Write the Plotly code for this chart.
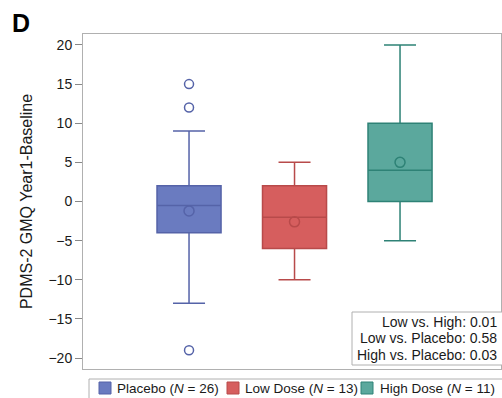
import plotly.graph_objects as go

groups = ["Placebo", "Low Dose", "High Dose"]
n_sizes = [26, 13, 11]
q1 = [-4, -6, 0]
median = [-0.5, -2, 4]
q3 = [2, 2, 10]
lower_fence = [-13, -10, -5]
upper_fence = [9, 5, 20]
means = [-1.2, -2.6, 5]
outliers = [[15, 12, -19], [], []]
fill_colors = ["#6A7BC0", "#D65E5E", "#5BA89D"]
line_colors = ["#5563A8", "#B84A4A", "#2E8276"]
y_ticks = [-20, -15, -10, -5, 0, 5, 10, 15, 20]
stats_lines = ["Low vs. High: 0.01", "Low vs. Placebo: 0.58", "High vs. Placebo: 0.03"]

W, H = 502, 398
L, R, T, B = 83, 1, 34, 29
pw, ph = W - L - R, H - T - B

def px(x):
    return (x - L) / pw

def py(y):
    return (H - B - y) / ph

fig = go.Figure()
for i, g in enumerate(groups):
    fig.add_trace(go.Box(
        x=[g], q1=[q1[i]], median=[median[i]], q3=[q3[i]],
        lowerfence=[lower_fence[i]], upperfence=[upper_fence[i]],
        fillcolor=fill_colors[i], line=dict(color=line_colors[i], width=1.5),
        width=0.607, whiskerwidth=0.5, boxpoints=False, showlegend=False,
        hoverinfo="skip",
    ))
    fig.add_trace(go.Scatter(
        x=[g], y=[means[i]], mode="markers",
        marker=dict(symbol="circle-open", size=10, color=line_colors[i], line=dict(width=1.5)),
        showlegend=False, hoverinfo="skip",
    ))
    if outliers[i]:
        fig.add_trace(go.Scatter(
            x=[g] * len(outliers[i]), y=outliers[i], mode="markers",
            marker=dict(symbol="circle-open", size=9, color=line_colors[i], line=dict(width=1.5)),
            showlegend=False, hoverinfo="skip",
        ))

shapes = []
annotations = []

# Stats box
shapes.append(dict(type="rect", xref="paper", yref="paper",
                   x0=px(352), x1=px(503), y0=py(365), y1=py(312),
                   line=dict(color="#b0b0b0", width=1), fillcolor="white", layer="above"))
for k, s in enumerate(stats_lines):
    annotations.append(dict(text=s, xref="paper", yref="paper", x=px(499), y=py(321.5 + k * 16.5),
                            xanchor="right", yanchor="middle", showarrow=False,
                            font=dict(size=14, color="#1a1a1a")))

# Legend
shapes.append(dict(type="rect", xref="paper", yref="paper",
                   x0=px(89), x1=px(505), y0=py(401), y1=py(379),
                   line=dict(color="#b0b0b0", width=1), fillcolor="white", layer="above"))
sw_x = [99, 227, 361]
tx_x = [115, 243, 378]
for i, g in enumerate(groups):
    shapes.append(dict(type="rect", xref="paper", yref="paper",
                       x0=px(sw_x[i]), x1=px(sw_x[i] + 12), y0=py(394), y1=py(382),
                       line=dict(color=line_colors[i], width=1), fillcolor=fill_colors[i], layer="above"))
    annotations.append(dict(text=f"{g} (<i>N</i> = {n_sizes[i]})", xref="paper", yref="paper",
                            x=px(tx_x[i]), y=py(388), xanchor="left", yanchor="middle",
                            showarrow=False, font=dict(size=13.5, color="#1a1a1a")))

# Panel label
annotations.append(dict(text="<b>D</b>", xref="paper", yref="paper", x=px(10), y=py(23),
                        xanchor="left", yanchor="middle", showarrow=False,
                        font=dict(size=25, color="black")))

fig.update_layout(
    width=W, height=H,
    margin=dict(l=L, r=R, t=T, b=B, pad=0),
    paper_bgcolor="white", plot_bgcolor="white",
    font=dict(family="Liberation Sans, Arial, sans-serif", color="#1a1a1a"),
    shapes=shapes, annotations=annotations,
    xaxis=dict(type="category", categoryorder="array", categoryarray=groups,
               range=[-1.005, 2.957], showticklabels=False, ticks="",
               showgrid=False, zeroline=False, showline=True, linecolor="#b0b0b0",
               linewidth=1, mirror=True, fixedrange=True),
    yaxis=dict(range=[-21.4, 21.4], tickvals=y_ticks,
               ticktext=[str(v).replace("-", "\u2212") for v in y_ticks],
               ticks="outside", ticklen=7, tickcolor="#888", tickwidth=1,
               tickfont=dict(size=14, color="#1a1a1a"),
               showgrid=False, zeroline=False, showline=True, linecolor="#b0b0b0",
               linewidth=1, mirror=True,
               title=dict(text="PDMS-2 GMQ Year1-Baseline", font=dict(size=16, color="#1a1a1a"), standoff=11)),
    showlegend=False,
)

fig.write_html("out.html")
